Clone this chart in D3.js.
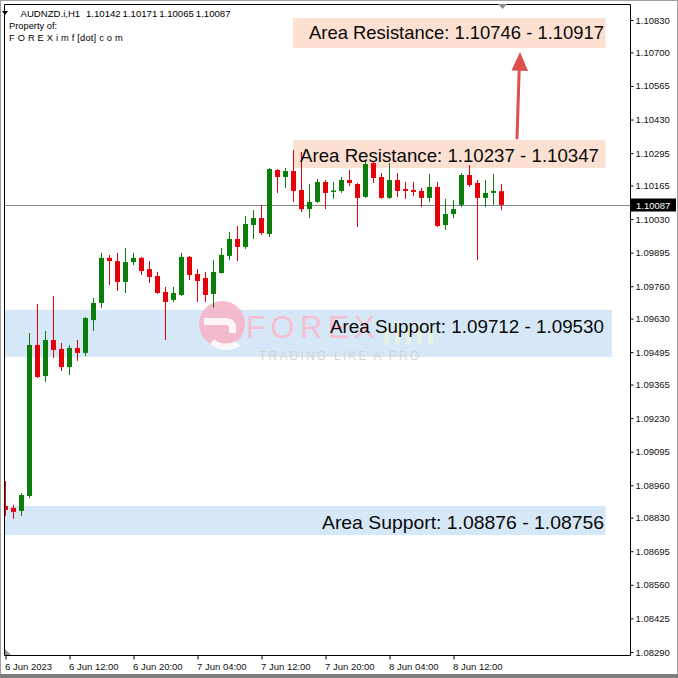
<!DOCTYPE html>
<html><head><meta charset="utf-8">
<script src="https://cdn.jsdelivr.net/npm/d3@7"></script>
<style>
body{margin:0;background:#fff;}
svg{display:block;font-family:"Liberation Sans",Arial,sans-serif;}
</style>
</head><body>
<svg id="c" width="678" height="678"></svg>
<script>
// ---------- DATA ----------
const symbol = "AUDNZD.i,H1";
const timeTickBars = [0, 8, 16, 24, 32, 40, 48, 56];
const timeLabels = ["6 Jun 2023", "6 Jun 12:00", "6 Jun 20:00", "7 Jun 04:00", "7 Jun 12:00", "7 Jun 20:00", "8 Jun 04:00", "8 Jun 12:00"];
const priceTicks = [1.10830, 1.10700, 1.10565, 1.10430, 1.10295, 1.10165, 1.10030, 1.09895, 1.09760, 1.09630,
                    1.09495, 1.09365, 1.09230, 1.09095, 1.08960, 1.08830, 1.08695, 1.08560, 1.08425, 1.08290];

const open = [1.08877,1.08869,1.08857,1.08917,1.09524,1.09399,1.09544,1.09508,1.09435,1.09512,
1.09492,1.09624,1.09693,1.09874,1.09861,1.09777,1.09857,1.09874,1.09829,1.09801,
1.09737,1.09705,1.09725,1.09878,1.09809,1.09793,1.09729,1.09813,1.09882,1.09950,
1.09918,1.10006,1.10034,1.09970,1.10227,1.10199,1.10223,1.10147,1.10070,1.10099,
1.10179,1.10139,1.10143,1.10187,1.10171,1.10119,1.10255,1.10199,1.10115,1.10187,
1.10151,1.10147,1.10143,1.10115,1.10159,1.10006,1.10050,1.10087,1.10207,1.10175,
1.10115,1.10135,1.10142];
const high = [1.08977,1.08881,1.08929,1.09572,1.09689,1.09580,1.09721,1.09532,1.09524,1.09544,
1.09636,1.09713,1.09894,1.09886,1.09894,1.09914,1.09894,1.09878,1.09861,1.09817,
1.09757,1.09757,1.09894,1.09882,1.09829,1.09817,1.09865,1.09914,1.09978,1.10002,
1.10042,1.10066,1.10087,1.10235,1.10231,1.10235,1.10308,1.10300,1.10171,1.10191,
1.10187,1.10179,1.10199,1.10227,1.10175,1.10267,1.10259,1.10215,1.10255,1.10215,
1.10179,1.10179,1.10155,1.10211,1.10179,1.10111,1.10107,1.10215,1.10247,1.10187,
1.10187,1.10211,1.10171];
const low = [1.08837,1.08825,1.08837,1.08909,1.09391,1.09375,1.09472,1.09419,1.09403,1.09460,
1.09480,1.09580,1.09673,1.09765,1.09741,1.09733,1.09845,1.09805,1.09773,1.09729,
1.09544,1.09697,1.09721,1.09785,1.09697,1.09697,1.09673,1.09811,1.09865,1.09861,
1.09910,1.09950,1.09966,1.09958,1.10135,1.10155,1.10099,1.10058,1.10034,1.10095,
1.10070,1.10111,1.10135,1.10163,1.09998,1.10115,1.10175,1.10111,1.10111,1.10119,
1.10111,1.10123,1.10078,1.10099,1.09998,1.09986,1.10034,1.10078,1.10159,1.09865,
1.10078,1.10087,1.10065];
const close = [1.08861,1.08853,1.08921,1.09524,1.09395,1.09544,1.09504,1.09435,1.09512,1.09492,
1.09632,1.09693,1.09874,1.09861,1.09777,1.09857,1.09874,1.09821,1.09797,1.09733,
1.09697,1.09733,1.09878,1.09805,1.09781,1.09725,1.09817,1.09886,1.09950,1.09918,
1.10010,1.10034,1.09974,1.10231,1.10199,1.10223,1.10143,1.10070,1.10099,1.10179,
1.10135,1.10145,1.10187,1.10175,1.10115,1.10251,1.10195,1.10115,1.10187,1.10143,
1.10143,1.10139,1.10115,1.10159,1.10002,1.10050,1.10070,1.10207,1.10167,1.10115,
1.10135,1.10143,1.10087];

// annotation zones (price bounds as drawn, bar index span)
const zoneLabels = ["Area Resistance: 1.10746 - 1.10917", "Area Resistance: 1.10237 - 1.10347",
                    "Area Support: 1.09712 - 1.09530", "Area Support: 1.08876 - 1.08756"];
const zoneKind = ["res", "res", "sup", "sup"];
const zoneTop = [1.10838, 1.10348, 1.09665, 1.08877];
const zoneBottom = [1.10717, 1.10235, 1.09476, 1.08760];
const zoneFrom = [36, 36, -2, -2];
const zoneTo = [75, 75, 75.8, 75];

// ---------- LAYOUT ----------
const W = 678, H = 678;
const L = 4, R = 630, T = 4, B = 655;
const svg = d3.select("#c");

const x = d3.scaleLinear().domain([0, 78]).range([5.5, 5.5 + 8 * 78]);
const y = d3.scaleLinear().domain([1.08290, 1.10830]).range([652, 20]);

const GREEN = "#0b7d0b", RED = "#e6000a";

svg.append("rect").attr("x", 0).attr("y", 0).attr("width", W).attr("height", H).attr("fill", "#fff");

svg.append("defs").append("clipPath").attr("id", "plot")
  .append("rect").attr("x", L).attr("y", T).attr("width", R - L).attr("height", B - T);

const plot = svg.append("g").attr("clip-path", "url(#plot)");

// zones
const zoneIdx = d3.range(zoneLabels.length);
const zx0 = i => zoneFrom[i] < 0 ? L : x(zoneFrom[i]) - 0.5;
plot.selectAll("rect.zone").data(zoneIdx).join("rect")
  .attr("class", "zone")
  .attr("x", zx0)
  .attr("y", i => y(zoneTop[i]))
  .attr("width", i => x(zoneTo[i]) - zx0(i))
  .attr("height", i => y(zoneBottom[i]) - y(zoneTop[i]))
  .attr("fill", i => zoneKind[i] === "res" ? "#fce1d2" : "#d6e7f7");

// watermark
const wm = plot.append("g");
wm.append("circle").attr("cx", 222).attr("cy", 324).attr("r", 23).attr("fill", "#f6b5c8").attr("opacity", 0.9);
wm.append("path").attr("d", "M204,318 L226,318 Q236,318 236,328 L236,333 L229,333 L229,328 Q229,325 226,325 L204,325 Z").attr("fill", "#fff").attr("opacity", 0.85);
wm.append("path").attr("d", "M214,339 Q222,347 236,341 L240,346 Q224,355 210,344 Z").attr("fill", "#fff").attr("opacity", 0.85);
wm.append("text").attr("x", 246).attr("y", 338).attr("font-size", 31).attr("letter-spacing", 5.5)
  .attr("fill", "#f8bfd0").text("FOREX");
[0, 1, 2, 3, 4].forEach(k => {
  wm.append("rect").attr("x", 384 + k * 11).attr("y", 326 - (k % 2) * 4).attr("width", 5).attr("height", 18 + (k % 2) * 4)
    .attr("fill", "#e6f3df").attr("opacity", 0.9);
});
wm.append("text").attr("x", 259).attr("y", 360).attr("font-size", 12).attr("letter-spacing", 2.2)
  .attr("fill", "#d4d4d4").text("TRADING LIKE A PRO");

// current price line
const last = open.length - 1;
const cpy = Math.round(y(close[last])) + 0.5;
plot.append("line").attr("x1", L).attr("x2", R).attr("y1", cpy).attr("y2", cpy)
  .attr("stroke", "#7a8a8a").attr("stroke-width", 1);

// candles
const bars = d3.range(open.length);
const cg = plot.append("g");
cg.selectAll("line.wick").data(bars).join("line")
  .attr("x1", i => x(i)).attr("x2", i => x(i))
  .attr("y1", i => y(high[i])).attr("y2", i => y(low[i]))
  .attr("stroke", i => close[i] >= open[i] ? GREEN : RED).attr("stroke-width", 1);
cg.selectAll("rect.body").data(bars).join("rect")
  .attr("x", i => x(i) - 2.5).attr("width", 5)
  .attr("y", i => y(Math.max(open[i], close[i])))
  .attr("height", i => Math.max(1.5, Math.abs(y(open[i]) - y(close[i]))))
  .attr("fill", i => close[i] >= open[i] ? GREEN : RED);

// zone labels
const labelX = [309, 300, 330, 322];
const labelY = [39, 162, 333, 529];
const labelW = [295, 299, 274, 282];
plot.selectAll("text.zl").data(zoneIdx).join("text")
  .attr("x", i => labelX[i]).attr("y", i => labelY[i])
  .attr("font-size", 18.6).attr("fill", "#0a0a0a")
  .attr("textLength", i => labelW[i]).attr("lengthAdjust", "spacingAndGlyphs")
  .text(i => zoneLabels[i]);

// arrow
const arrowColor = "#dc5050";
plot.append("line").attr("x1", 517).attr("y1", 138).attr("x2", 519.3).attr("y2", 66)
  .attr("stroke", arrowColor).attr("stroke-width", 3).attr("stroke-linecap", "round");
plot.append("path").attr("d", "M520,52 L528,71 L511.5,70.5 Z").attr("fill", arrowColor);

// frame
svg.append("path").attr("d", `M${L + 0.5},${T + 0.5} H${R + 0.5} V${B + 0.5} H${L + 0.5} Z`)
  .attr("fill", "none").attr("stroke", "#000").attr("stroke-width", 1);

// right axis
const yAxis = d3.axisRight(y).tickValues(priceTicks).tickSize(3).tickSizeOuter(0)
  .tickFormat(d3.format(".5f"));
const ya = svg.append("g").attr("transform", `translate(${R + 0.5},0)`).call(yAxis);
ya.select(".domain").remove();
ya.selectAll("text").attr("font-size", 9.5).attr("font-family", "Liberation Sans, Arial, sans-serif").attr("x", 5).attr("fill", "#111");
ya.selectAll("line").attr("stroke", "#000");

// current price tag
const cy = Math.round(y(close[last]));
svg.append("rect").attr("x", R + 1).attr("y", cy - 6.5).attr("width", 45).attr("height", 13).attr("fill", "#000");
svg.append("text").attr("x", R + 6).attr("y", cy + 3.5).attr("font-size", 9.5).attr("fill", "#fff").text(close[last].toFixed(5));

// bottom axis
const xAxis = d3.axisBottom(x).tickValues(timeTickBars).tickSize(4).tickSizeOuter(0)
  .tickFormat((d, i) => timeLabels[i]);
const xa = svg.append("g").attr("transform", `translate(0,${B + 0.5})`).call(xAxis);
xa.select(".domain").remove();
xa.selectAll("text").attr("font-size", 9.5).attr("font-family", "Liberation Sans, Arial, sans-serif")
  .attr("text-anchor", "start").attr("dx", -1).attr("y", 8).attr("fill", "#111");
xa.selectAll("line").attr("stroke", "#000");

// header
svg.append("path").attr("d", "M2,11 L8,11 L5,15 Z").attr("fill", "#000");
svg.append("text").attr("x", 20.5).attr("y", 16.5).attr("font-size", 9.6).attr("fill", "#000").text(symbol);
const hdr = [open[last], high[last], low[last], close[last]];
svg.append("g").selectAll("text").data(hdr).join("text")
  .attr("x", (d, i) => 86 + i * 36.6).attr("y", 16.5).attr("font-size", 9.6).attr("fill", "#000")
  .text(d => d.toFixed(5));
svg.append("text").attr("x", 9).attr("y", 28.5).attr("font-size", 9.3).attr("fill", "#000").text("Property of:");
svg.append("text").attr("x", 9).attr("y", 40.5).attr("font-size", 9.3).attr("fill", "#000")
  .attr("letter-spacing", 0.2).text("F O R E X i m f [dot] c o m");

// small markers
svg.append("path").attr("d", "M498,4 L507,4 L502.5,9 Z").attr("fill", "#8c8c8c");
svg.append("path").attr("d", "M5,649 L5,655 L11,655 Z").attr("fill", "#9a9a9a");

// outer window border
svg.append("rect").attr("x", 0.5).attr("y", 0.5).attr("width", W - 1).attr("height", H - 1)
  .attr("fill", "none").attr("stroke", "#a0a0a0");
svg.append("rect").attr("x", 0).attr("y", 674).attr("width", W).attr("height", 4).attr("fill", "#7d7d7d");
</script>
</body></html>
